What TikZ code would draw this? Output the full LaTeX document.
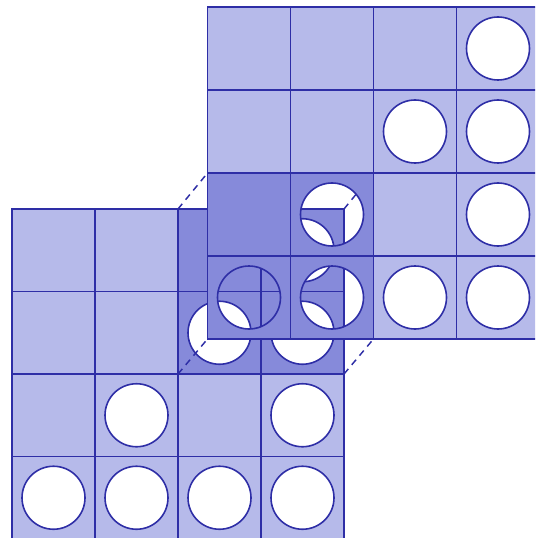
\documentclass[tikz,border=0pt]{standalone}
\definecolor{cardlight}{RGB}{182,186,234}
\definecolor{carddark}{RGB}{134,138,218}
\definecolor{cardline}{RGB}{46,46,166}
\tikzset{
  gridline/.style={draw=cardline,line width=1.3pt,line cap=rect},
  holeline/.style={draw=cardline,line width=1.2pt},
  hiddenedge/.style={draw=cardline,line width=1.1pt,dash pattern=on 5pt off 4pt}
}
% #1 x0, #2 y0, #3 cell width, #4 cell height, #5 block column, #6 block row
\newcommand\punchcard[6]{%
  \foreach \rr/\cc in {0/0,0/1,0/2,1/0,1/1,2/0,2/2}{%
    \pgfmathtruncatemacro\inb{and(and(\rr>=#6,\rr<=#6+1),and(\cc>=#5,\cc<=#5+1))}%
    \ifnum\inb=1 \def\cellcol{carddark}\else\def\cellcol{cardlight}\fi
    \fill[\cellcol] ({#1+\cc*#3},{#2+\rr*#4}) rectangle ++(#3,#4);
  }%
  \foreach \rr/\cc in {0/3,1/2,1/3,2/1,2/3,3/0,3/1,3/2,3/3}{%
    \pgfmathtruncatemacro\inb{and(and(\rr>=#6,\rr<=#6+1),and(\cc>=#5,\cc<=#5+1))}%
    \ifnum\inb=1 \def\cellcol{carddark}\else\def\cellcol{cardlight}\fi
    \fill[\cellcol,even odd rule] ({#1+\cc*#3},{#2+\rr*#4}) rectangle ++(#3,#4)
      ({#1+(\cc+0.5)*#3},{#2+(\rr+0.5)*#4}) circle[radius=31.5];
  }%
  \foreach \ii in {0,...,4}{%
    \draw[gridline] ({#1+\ii*#3},#2) -- ++(0,{4*#4});
    \draw[gridline] (#1,{#2+\ii*#4}) -- ++({4*#3},0);
  }%
  \foreach \rr/\cc in {0/3,1/2,1/3,2/1,2/3,3/0,3/1,3/2,3/3}{%
    \draw[holeline] ({#1+(\cc+0.5)*#3},{#2+(\rr+0.5)*#4}) circle[radius=31.5];
  }%
}
\begin{document}
\begin{tikzpicture}[x=0.75pt,y=-0.75pt]
\useasboundingbox (0,0) rectangle (535,538);
\clip (0,0) rectangle (535,538);
% lower card
\punchcard{12}{209}{83}{82.5}{2}{0}
% corners of the two matching 2x2 blocks
\coordinate (lbtl) at (178,209);
\coordinate (lbtr) at (344,209);
\coordinate (lbbl) at (178,374);
\coordinate (lbbr) at (344,374);
\coordinate (ubtl) at (207.5,173);
\coordinate (ubtr) at (373.5,173);
\coordinate (ubbl) at (207.5,339);
\coordinate (ubbr) at (373.5,339);
\draw[hiddenedge] (lbtl) -- (ubtl);
\draw[hiddenedge] (lbtr) -- (ubtr);
\draw[hiddenedge] (lbbl) -- (ubbl);
\draw[hiddenedge] (lbbr) -- (ubbr);
% upper card, on top
\punchcard{207.5}{7}{83}{83}{0}{2}
\end{tikzpicture}
\end{document}
